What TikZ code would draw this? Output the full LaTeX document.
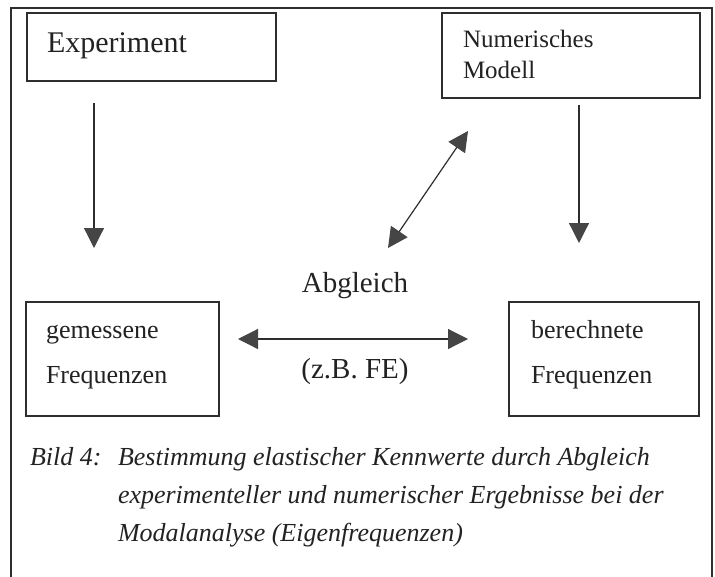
\documentclass[tikz,border=0pt]{standalone}
\usepackage{fontspec}
\setmainfont{Liberation Serif}
\usetikzlibrary{arrows.meta}
\definecolor{ink}{HTML}{2E2E2E}
\definecolor{headc}{HTML}{454545}
\definecolor{txt}{HTML}{222222}
\tikzset{
  frameline/.style={draw=ink, line width=1.2pt},
  boxnode/.style={draw=ink, line width=1.4pt, inner sep=0pt, outer sep=0pt, fill=white},
  lbl/.style={inner sep=0pt, outer sep=0pt, anchor=base west, text=txt},
  clbl/.style={inner sep=0pt, outer sep=0pt, anchor=base, text=txt},
  arr/.style={draw=ink, line width=1.2pt, -{Triangle[length=20pt,width=20pt,fill=headc,color=headc]}},
  darr/.style={draw=ink, line width=1.2pt, {Triangle[length=20pt,width=20pt,fill=headc,color=headc]}-{Triangle[length=20pt,width=20pt,fill=headc,color=headc]}},
  captext/.style={inner sep=0pt, outer sep=0pt, anchor=base west, text=txt, font=\fontsize{26}{30}\selectfont\itshape}
}
\begin{document}
\begin{tikzpicture}[x=1pt,y=-1pt]
\useasboundingbox (0,0) rectangle (715,576);
\fill[white] (0,0) rectangle (715,576);
% outer frame (bottom edge lies below the picture)
\draw[frameline] (11,590) -- (11,8) -- (712,8) -- (712,590);

% boxes
\node[boxnode, minimum width=249pt, minimum height=68pt] (exp) at (151.5,47) {};
\node[boxnode, minimum width=258pt, minimum height=85pt] (num) at (571,55.5) {};
\node[boxnode, minimum width=193pt, minimum height=114pt] (gem) at (122.5,359) {};
\node[boxnode, minimum width=190pt, minimum height=114pt] (ber) at (604,359) {};

% box texts
\node[lbl, font=\fontsize{30}{34}\selectfont] (texp) at (47,52) {Experiment};
\node[lbl, font=\fontsize{25}{28}\selectfont] (tnum1) at (463,47) {Numerisches};
\node[lbl, font=\fontsize{25}{28}\selectfont] (tnum2) at (463,78) {Modell};
\node[lbl, font=\fontsize{26}{28}\selectfont] (tgem1) at (46,338) {gemessene};
\node[lbl, font=\fontsize{26}{28}\selectfont] (tgem2) at (46,383) {Frequenzen};
\node[lbl, font=\fontsize{26}{28}\selectfont] (tber1) at (531,338) {berechnete};
\node[lbl, font=\fontsize{26}{28}\selectfont] (tber2) at (531,383) {Frequenzen};

% middle labels
\node[clbl, font=\fontsize{29}{32}\selectfont] (abg) at (355,292) {Abgleich};
\node[clbl, font=\fontsize{29}{32}\selectfont] (zb) at (355,378) {(z.B. FE)};

% arrow end points
\coordinate (a1s) at (94,103);
\coordinate (a1e) at (94,248);
\coordinate (a2s) at (579,105);
\coordinate (a2e) at (579,243);
\coordinate (d1) at (388,248);
\coordinate (d2) at (468,131);
\coordinate (h1) at (238,339);
\coordinate (h2) at (468,339);

\draw[arr] (a1s) -- (a1e);
\draw[arr] (a2s) -- (a2e);
\draw[darr] (d1) -- (d2);
\draw[darr] (h1) -- (h2);

% caption
\node[captext] (c0) at (30,465) {Bild 4:};
\node[captext] (c1) at (118,465) {Bestimmung elastischer Kennwerte durch Abgleich};
\node[captext] (c2) at (118,503) {experimenteller und numerischer Ergebnisse bei der};
\node[captext] (c3) at (118,541) {Modalanalyse (Eigenfrequenzen)};
\end{tikzpicture}
\end{document}
